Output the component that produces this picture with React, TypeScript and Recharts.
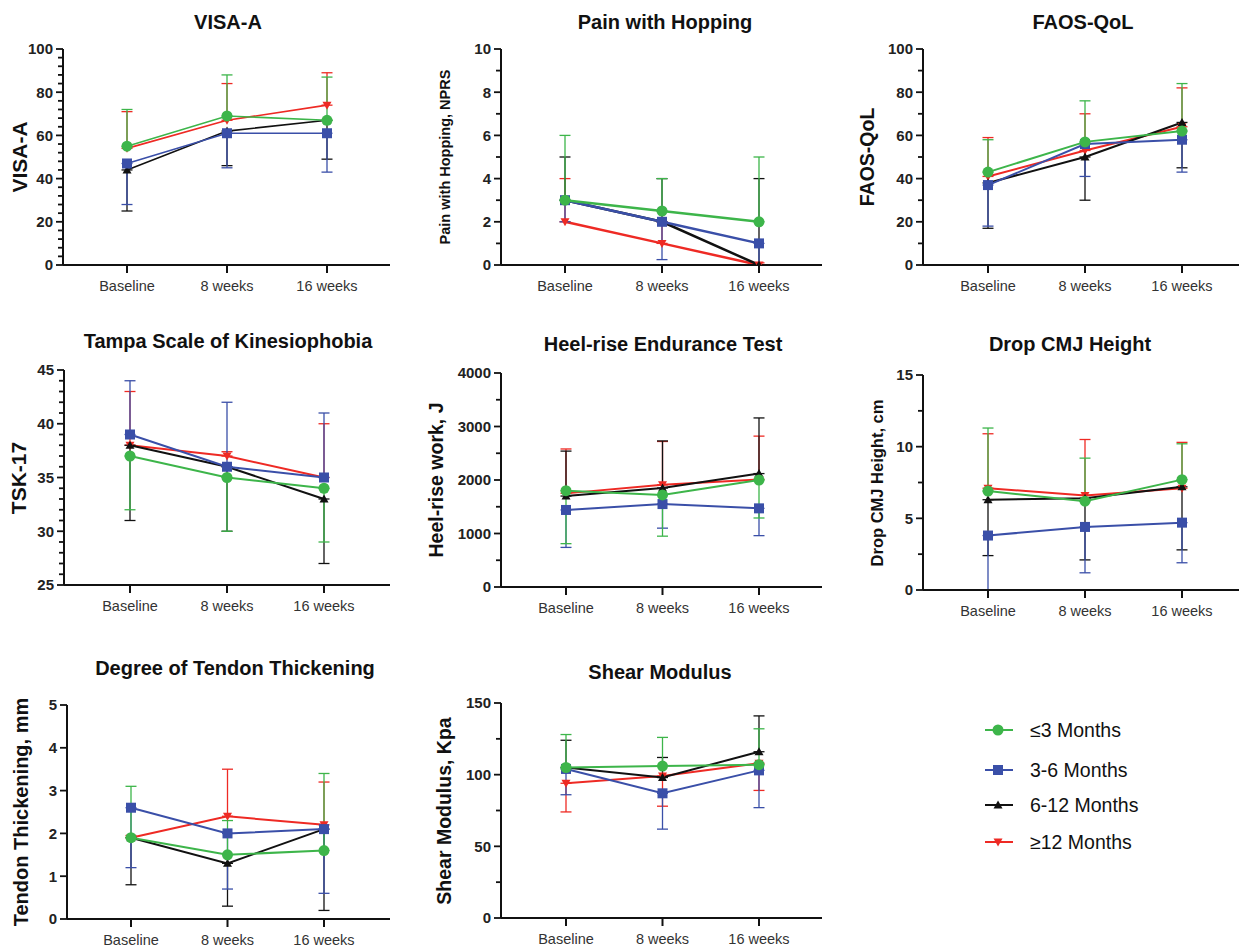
import React from 'react';
import { LineChart, Line, XAxis, YAxis, ErrorBar, ReferenceLine } from 'recharts';

const categories = ['Baseline', '8 weeks', '16 weeks'];
const groups = ['≤3 Months', '3-6 Months', '6-12 Months', '≥12 Months'];
const colors = ['#3db54a', '#3a4fa8', '#111111', '#ee2a24'];
const shapes = ['circle', 'square', 'triangle', 'triangleDown'];

// means per group (≤3, 3-6, 6-12, ≥12); errors signed: + drawn above, - drawn below
const visaMean = [[55, 69, 67], [47, 61, 61], [44, 62, 67], [54, 67, 74]];
const visaErr = [[17, 19, 20], [-19, -16, -18], [-19, -16, -18], [17, 17, 15]];
const visaTicks = [0, 20, 40, 60, 80, 100];

const painMean = [[3, 2.5, 2], [3, 2, 1], [3, 2, 0], [2, 1, 0]];
const painErr = [[3, 1.5, 3], [-1, -1.75, -1], [2, 2, 4], [2, 1, 0.1]];
const painTicks = [0, 2, 4, 6, 8, 10];

const faosMean = [[43, 57, 62], [37, 56, 58], [38, 50, 66], [41, 53, 64]];
const faosErr = [[15, 19, 22], [-19, -15, -15], [-21, -20, -21], [18, 17, 18]];
const faosTicks = [0, 20, 40, 60, 80, 100];

const tskMean = [[37, 35, 34], [39, 36, 35], [38, 36, 33], [38, 37, 35]];
const tskErr = [[-5, -5, -5], [5, 6, 6], [-7, -6, -6], [5, 0.4, 5]];
const tskTicks = [25, 30, 35, 40, 45];

const heelMean = [[1800, 1720, 2000], [1440, 1550, 1470], [1700, 1850, 2120], [1750, 1910, 2010]];
const heelErr = [[-990, -770, -710], [-700, -450, -510], [840, 880, 1040], [830, 810, 810]];
const heelTicks = [0, 1000, 2000, 3000, 4000];

const cmjMean = [[6.9, 6.2, 7.7], [3.8, 4.4, 4.7], [6.3, 6.4, 7.2], [7.1, 6.6, 7.1]];
const cmjErr = [[4.4, 3.0, 2.5], [-3.8, -3.2, -2.8], [-3.9, -4.3, -4.4], [3.8, 3.9, 3.2]];
const cmjTicks = [0, 5, 10, 15];

const tendonMean = [[1.9, 1.5, 1.6], [2.6, 2.0, 2.1], [1.9, 1.3, 2.1], [1.9, 2.4, 2.2]];
const tendonErr = [[1.2, 0.8, 1.8], [-1.4, -1.3, -1.5], [-1.1, -1.0, -1.9], [0.05, 1.1, 1.0]];
const tendonTicks = [0, 1, 2, 3, 4, 5];

const shearMean = [[105, 106, 107], [104, 87, 103], [105, 98, 116], [94, 99, 108]];
const shearErr = [[23, 20, 25], [-18, -25, -26], [19, 14, 25], [-20, -21, -19]];
const shearTicks = [0, 50, 100, 150];

const FONT = '"Liberation Sans", Arial, sans-serif';

const panels = [
  { title: 'VISA-A', label: 'VISA-A', mean: visaMean, err: visaErr, ticks: visaTicks, minor: 4,
    axisX: 63, top: 49, bottom: 265, first: 127, last: 327, right: 390, labelX: 20, labelSize: 21, tx: 228, ty: 22, lw: 1.6 },
  { title: 'Pain with Hopping', label: 'Pain with Hopping, NPRS', mean: painMean, err: painErr, ticks: painTicks, minor: 1,
    axisX: 501, top: 49, bottom: 265, first: 565, last: 759, right: 822, labelX: 445, labelSize: 14.5, tx: 665, ty: 22, lw: 2.5 },
  { title: 'FAOS-QoL', label: 'FAOS-QoL', mean: faosMean, err: faosErr, ticks: faosTicks, minor: 10,
    axisX: 923, top: 49, bottom: 265, first: 988, last: 1182, right: 1239, labelX: 867, labelSize: 19.5, tx: 1083, ty: 22, lw: 2 },
  { title: 'Tampa Scale of Kinesiophobia', label: 'TSK-17', mean: tskMean, err: tskErr, ticks: tskTicks, minor: 1,
    axisX: 64, top: 370, bottom: 585, first: 130, last: 324, right: 390, labelX: 19, labelSize: 21, tx: 228, ty: 341, lw: 2 },
  { title: 'Heel-rise Endurance Test', label: 'Heel-rise work, J', mean: heelMean, err: heelErr, ticks: heelTicks, minor: 500,
    axisX: 501, top: 373, bottom: 587, first: 566, last: 759, right: 822, labelX: 436, labelSize: 19.5, tx: 663, ty: 344, lw: 2 },
  { title: 'Drop CMJ Height', label: 'Drop CMJ Height, cm', mean: cmjMean, err: cmjErr, ticks: cmjTicks, minor: 2.5,
    axisX: 923, top: 375, bottom: 590, first: 988, last: 1182, right: 1239, labelX: 877, labelSize: 16.5, tx: 1070, ty: 344, lw: 2 },
  { title: 'Degree of Tendon Thickening', label: 'Tendon Thickening, mm', mean: tendonMean, err: tendonErr, ticks: tendonTicks, minor: 0,
    axisX: 67, top: 705, bottom: 919, first: 131, last: 324, right: 390, labelX: 21, labelSize: 20, tx: 235, ty: 668, lw: 2 },
  { title: 'Shear Modulus', label: 'Shear Modulus, Kpa', mean: shearMean, err: shearErr, ticks: shearTicks, minor: 25,
    axisX: 501, top: 703, bottom: 918, first: 566, last: 759, right: 822, labelX: 444, labelSize: 19.5, tx: 660, ty: 672, lw: 2 },
];

function Marker({ shape, cx, cy, color }: { shape: string; cx: number; cy: number; color: string }) {
  if (shape === 'circle') return <circle cx={cx} cy={cy} r={5.5} fill={color} />;
  if (shape === 'square') return <rect x={cx - 5} y={cy - 5} width={10} height={10} fill={color} />;
  if (shape === 'triangle')
    return <polygon points={`${cx},${cy - 4.5} ${cx - 4.5},${cy + 3.5} ${cx + 4.5},${cy + 3.5}`} fill={color} />;
  return <polygon points={`${cx},${cy + 4.5} ${cx - 4.5},${cy - 3.5} ${cx + 4.5},${cy - 3.5}`} fill={color} />;
}

// minor tick positions between the labelled ticks
function minorTicks(ticks: number[], step: number) {
  if (!step) return [];
  const lo = ticks[0];
  const hi = ticks[ticks.length - 1];
  const out: number[] = [];
  for (let v = lo + step; v < hi - 1e-9; v += step) {
    const r = Math.round(v * 100) / 100;
    if (!ticks.includes(r)) out.push(r);
  }
  return out;
}

// short stub outside the y axis, placed by the chart's own y scale
const MinorStub = (props: any) => {
  const left = Math.min(Number(props.x1), Number(props.x2));
  return <line x1={left - 5} x2={left} y1={props.y1} y2={props.y1} stroke="#111" strokeWidth={1.8} />;
};

function Panel({ p }: { p: (typeof panels)[number] }) {
  const mt = 12;
  const xh = 36;
  const yw = 60;
  const width = p.right - (p.axisX - yw);
  const height = p.bottom - p.top + mt + xh;
  const domain: [number, number] = [p.ticks[0], p.ticks[p.ticks.length - 1]];

  const data = categories.map((c, i) => {
    const row: Record<string, any> = { cat: c };
    groups.forEach((_, g) => {
      const e = p.err[g][i];
      row[`m${g}`] = p.mean[g][i];
      row[`e${g}`] = e >= 0 ? [0, e] : [-e, 0];
    });
    return row;
  });

  const minors = minorTicks(p.ticks, p.minor);
  const order = [3, 2, 1, 0];

  return (
    <>
      <div
        style={{
          position: 'absolute', left: p.tx, top: p.ty, transform: 'translate(-50%, -50%)',
          fontFamily: FONT, fontWeight: 'bold', fontSize: 20, color: '#111', whiteSpace: 'nowrap',
        }}
      >
        {p.title}
      </div>
      <div
        style={{
          position: 'absolute', left: p.labelX, top: (p.top + p.bottom) / 2,
          transform: 'translate(-50%, -50%) rotate(-90deg)',
          fontFamily: FONT, fontWeight: 'bold', fontSize: p.labelSize, color: '#111', whiteSpace: 'nowrap',
        }}
      >
        {p.label}
      </div>
      <div style={{ position: 'absolute', left: p.axisX - yw, top: p.top - mt }}>
        <LineChart width={width} height={height} data={data} margin={{ top: mt, right: 0, left: 0, bottom: 0 }}>
          <XAxis
            dataKey="cat"
            height={xh}
            padding={{ left: p.first - p.axisX, right: p.right - p.last }}
            axisLine={{ stroke: '#111', strokeWidth: 2 }}
            tickLine={{ stroke: '#111', strokeWidth: 2 }}
            tickSize={8}
            tickMargin={8}
            interval={0}
            tick={{ fill: '#333', fontSize: 14.5, fontFamily: FONT }}
          />
          <YAxis
            width={yw}
            domain={domain}
            allowDataOverflow
            ticks={p.ticks}
            interval={0}
            tickSize={7}
            tickMargin={3}
            tickLine={{ stroke: '#111', strokeWidth: 1.8 }}
            axisLine={{ stroke: '#111', strokeWidth: 2 }}
            tick={{ fill: '#222', fontSize: 15, fontWeight: 'bold', fontFamily: FONT }}
          />
          {minors.map((v) => (
            <ReferenceLine key={`mn${v}`} y={v} ifOverflow="visible" stroke="#111" shape={MinorStub} />
          ))}
          {order.map((g) => (
            <Line
              key={g}
              dataKey={`m${g}`}
              stroke={colors[g]}
              strokeWidth={p.lw}
              isAnimationActive={false}
              activeDot={false}
              dot={(dp: any) => (
                <Marker key={`d${g}-${dp.index}`} shape={shapes[g]} cx={dp.cx} cy={dp.cy} color={colors[g]} />
              )}
            >
              <ErrorBar dataKey={`e${g}`} direction="y" width={5.5} stroke={colors[g]} strokeWidth={1.3} isAnimationActive={false} />
            </Line>
          ))}
        </LineChart>
      </div>
    </>
  );
}

function LegendBox() {
  const rows = [730, 770, 805, 842];
  return (
    <svg style={{ position: 'absolute', left: 960, top: 700 }} width={270} height={170}>
      {groups.map((g, i) => {
        const y = rows[i] - 700;
        return (
          <g key={g}>
            <line x1={25} x2={53} y1={y} y2={y} stroke={colors[i]} strokeWidth={2} />
            <Marker shape={shapes[i]} cx={38} cy={y} color={colors[i]} />
            <text x={70} y={y} dy="0.35em" fontSize={19.5} fill="#111" fontFamily={FONT}>
              {g}
            </text>
          </g>
        );
      })}
    </svg>
  );
}

export default function App() {
  return (
    <div style={{ position: 'absolute', left: 0, top: 0, width: 1239, height: 952, background: '#fff', overflow: 'hidden' }}>
      {panels.map((p) => (
        <Panel key={p.title} p={p} />
      ))}
      <LegendBox />
    </div>
  );
}
